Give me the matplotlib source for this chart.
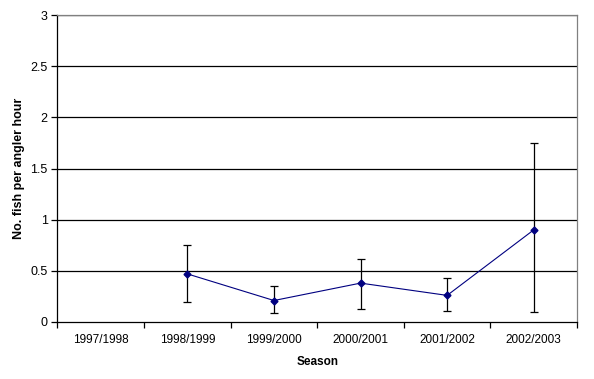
import numpy as np
import matplotlib.pyplot as plt

plt.rcParams['font.family'] = ['Liberation Sans', 'DejaVu Sans']

seasons = ["1997/1998", "1998/1999", "1999/2000", "2000/2001", "2001/2002", "2002/2003"]
catch_rate = [np.nan, 0.47, 0.21, 0.38, 0.26, 0.90]
err_low = [np.nan, 0.20, 0.09, 0.13, 0.11, 0.10]
err_high = [np.nan, 0.75, 0.35, 0.62, 0.43, 1.75]

x = np.arange(len(seasons))
y = np.array(catch_rate)
lo = y - np.array(err_low)
hi = np.array(err_high) - y

fig = plt.figure(figsize=(5.94, 3.79), dpi=100)
ax = fig.add_axes([0.0968, 0.1504, 0.8746, 0.81])

# gridlines
for g in np.arange(0.5, 3.01, 0.5):
    ax.axhline(g, color="black", linewidth=0.9, zorder=1)

ax.errorbar(x, y, yerr=[lo, hi], fmt="none", ecolor="black",
            elinewidth=0.9, capsize=3, capthick=0.9, zorder=2)
ax.plot(x, y, color="#000080", linewidth=0.8, marker="D", markersize=3.5,
        markerfacecolor="#000080", markeredgecolor="#000080", zorder=3)

ax.set_xlim(-0.5, len(seasons) - 0.5)
ax.set_ylim(0, 3)
ax.set_yticks(np.arange(0, 3.01, 0.5))
ax.set_yticklabels(["0", "0.5", "1", "1.5", "2", "2.5", "3"])
ax.set_xticks(x)
ax.set_xticklabels(seasons)
ax.set_xticks(np.arange(-0.5, len(seasons)), minor=True)
ax.tick_params(axis="x", which="major", length=0, pad=9, labelsize=8.5)
ax.tick_params(axis="x", which="minor", length=4, width=0.9, direction="out")
ax.tick_params(axis="y", length=4, width=0.9, direction="out", labelsize=9, pad=3)

ax.spines["left"].set_color("black")
ax.spines["bottom"].set_color("black")
ax.spines["top"].set_color("#808080")
ax.spines["right"].set_color("#808080")
for s in ax.spines.values():
    s.set_linewidth(0.9)

ax.set_xlabel("Season", fontsize=8.5, fontweight="bold", labelpad=7)
ax.set_ylabel("No. fish per angler hour", fontsize=9, fontweight="bold", labelpad=4)

fig.savefig("out.png", dpi=100)
